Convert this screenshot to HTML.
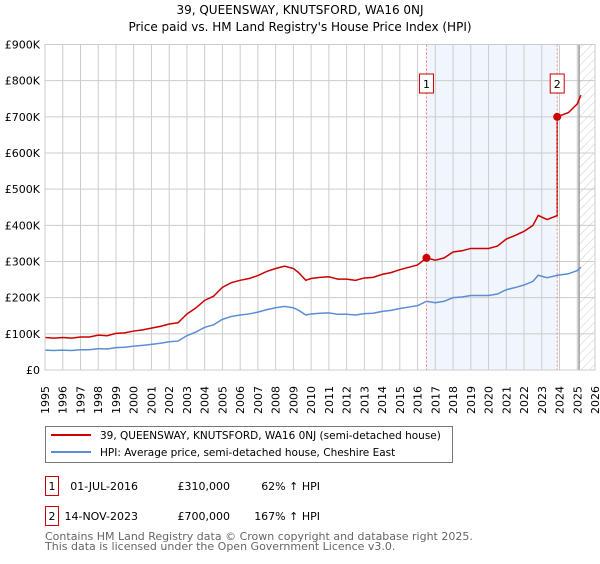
<!DOCTYPE html>
<html><head><meta charset="utf-8"><style>
body{margin:0;background:#fff;font-family:"DejaVu Sans","Liberation Sans",sans-serif;}
svg text{font-family:"DejaVu Sans","Liberation Sans",sans-serif;}
</style></head><body>
<svg id="c" width="600" height="560">
<text x="300" y="14" text-anchor="middle" font-size="12">39, QUEENSWAY, KNUTSFORD, WA16 0NJ</text>
<text x="300" y="31" text-anchor="middle" font-size="12">Price paid vs. HM Land Registry's House Price Index (HPI)</text>
<g id="plot"></g>
<g>
<rect x="45.5" y="426.5" width="407" height="36" fill="#fff" stroke="#777"/>
<line x1="51" y1="435" x2="91" y2="435" stroke="#cc0000" stroke-width="2"/>
<text x="100" y="439" font-size="10.5">39, QUEENSWAY, KNUTSFORD, WA16 0NJ (semi-detached house)</text>
<line x1="51" y1="452" x2="91" y2="452" stroke="#5b8fd4" stroke-width="2"/>
<text x="100" y="456" font-size="10.5">HPI: Average price, semi-detached house, Cheshire East</text>
</g>
<g font-size="11">
<rect x="45.5" y="476.5" width="13" height="19" fill="#fff" stroke="#cc0000"/>
<text x="52" y="490" text-anchor="middle">1</text>
<text x="138" y="490" text-anchor="end">01-JUL-2016</text>
<text x="230" y="490" text-anchor="end">£310,000</text>
<text x="320" y="490" text-anchor="end">62% ↑ HPI</text>
<rect x="45.5" y="506.5" width="13" height="19" fill="#fff" stroke="#cc0000"/>
<text x="52" y="520" text-anchor="middle">2</text>
<text x="138" y="520" text-anchor="end">14-NOV-2023</text>
<text x="230" y="520" text-anchor="end">£700,000</text>
<text x="320" y="520" text-anchor="end">167% ↑ HPI</text>
</g>
<text x="45" y="540" font-size="11" fill="#666">Contains HM Land Registry data © Crown copyright and database right 2025.</text>
<text x="45" y="550" font-size="11" fill="#666">This data is licensed under the Open Government Licence v3.0.</text>
</svg>
<script>
const yearTicks=[1995,1996,1997,1998,1999,2000,2001,2002,2003,2004,2005,2006,2007,2008,2009,2010,2011,2012,2013,2014,2015,2016,2017,2018,2019,2020,2021,2022,2023,2024,2025,2026];
const priceTicks=[0,100,200,300,400,500,600,700,800,900];
const priceTickLabels=["£0","£100K","£200K","£300K","£400K","£500K","£600K","£700K","£800K","£900K"];
const hpiDates=[1995,1995.5,1996,1996.5,1997,1997.5,1998,1998.5,1999,1999.5,2000,2000.5,2001,2001.5,2002,2002.5,2003,2003.5,2004,2004.5,2005,2005.5,2006,2006.5,2007,2007.5,2008,2008.5,2009,2009.3,2009.7,2010,2010.5,2011,2011.5,2012,2012.5,2013,2013.5,2014,2014.5,2015,2015.5,2016,2016.5,2017,2017.5,2018,2018.5,2019,2019.5,2020,2020.5,2021,2021.5,2022,2022.5,2022.8,2023.3,2023.9,2024.5,2025,2025.2];
const hpiValues=[55,54,55,54,56,56,59,58,62,63,66,68,71,74,78,80,95,105,118,125,140,148,152,155,160,167,172,176,172,165,152,155,157,158,154,154,152,156,157,162,165,170,174,178,190,186,190,200,202,206,206,206,210,222,228,235,245,262,255,262,266,275,284];
const saleDates=[2016.5,2023.87];
const salePrices=[310,700];
const saleLabels=["1","2"];

const NS="http://www.w3.org/2000/svg";
const L=45,R=595,T=44.5,B=370;
const x=d=>L+(d-1995)/(2026-1995)*(R-L);
const y=v=>B-v/900*(B-T);
const g=document.getElementById('plot');
function mk(t,a,p){const e=document.createElementNS(NS,t);for(const k in a)e.setAttribute(k,a[k]);(p||g).appendChild(e);return e;}
const defs=mk('defs',{});
const pat=mk('pattern',{id:'hatch',width:6,height:6,patternUnits:'userSpaceOnUse',patternTransform:'rotate(45)'},defs);
mk('line',{x1:0,y1:0,x2:0,y2:6,stroke:'#ccc','stroke-width':1},pat);
const sh=mk('rect',{x:x(saleDates[0]),y:T,width:x(saleDates[1])-x(saleDates[0]),height:B-T,fill:'#eef3fc',opacity:0.8});


const ht=mk('rect',{x:x(2025.1),y:T,width:R-x(2025.1),height:B-T,fill:'url(#hatch)'});


yearTicks.forEach(d=>{
 const l=mk('line',{x1:x(d),x2:x(d),y1:T,y2:B,stroke:'#ccc'});
 
 
 const t=mk('text',{transform:`translate(${x(d)+4},414) rotate(-90)`,'font-size':11});
 
 
 t.textContent=d;
});
priceTicks.forEach((v,i)=>{
 const l=mk('line',{x1:L,x2:R,y1:y(v),y2:y(v),stroke:'#ccc'});
 
 
 const t=mk('text',{x:40,y:y(v)+4,'text-anchor':'end','font-size':11});
 
 
 t.textContent=priceTickLabels[i];
});
const vl=mk('line',{x1:x(2025.1),x2:x(2025.1),y1:T,y2:B,stroke:'#999','stroke-width':1.5});


function hpiAt(d){for(let i=1;i<hpiDates.length;i++){if(d<=hpiDates[i]){const f=(d-hpiDates[i-1])/(hpiDates[i]-hpiDates[i-1]);return hpiValues[i-1]+f*(hpiValues[i]-hpiValues[i-1]);}}return hpiValues[hpiValues.length-1];}
let pts=[];
hpiDates.forEach((d,i)=>{
 let k=d<saleDates[1]?0:1;
 pts.push([d,hpiValues[i]*salePrices[k]/hpiAt(saleDates[k])]);
});
const pre=hpiAt(saleDates[1])*salePrices[0]/hpiAt(saleDates[0]);
pts.push([saleDates[1]-0.001,pre],[saleDates[1],salePrices[1]]);
pts.sort((a,b)=>a[0]-b[0]);
const hp=mk('polyline',{points:hpiDates.map((d,i)=>x(d)+','+y(hpiValues[i])).join(' '),fill:'none',stroke:'#5b8fd4','stroke-width':1.5});


const pp=mk('polyline',{points:pts.map(p=>x(p[0])+','+y(p[1])).join(' '),fill:'none',stroke:'#cc0000','stroke-width':1.5});


saleDates.forEach((d,i)=>{
 const dl=mk('line',{x1:x(d),x2:x(d),y1:T,y2:B,stroke:'#f08080','stroke-dasharray':'2,2'});
 
 
 const c=mk('circle',{cx:x(d),cy:y(salePrices[i]),r:4,fill:'#cc0000'});
 
 
 const b=mk('rect',{x:x(d)-7,y:74,width:14,height:19,fill:'#fff',stroke:'#cc0000'});
 
 
 const t=mk('text',{x:x(d),y:88,'text-anchor':'middle','font-size':11});
 
 
 t.textContent=saleLabels[i];
});
mk('rect',{x:L,y:T,width:R-L,height:B-T,fill:'none',stroke:'#ccc'});
</script>
</body></html>
